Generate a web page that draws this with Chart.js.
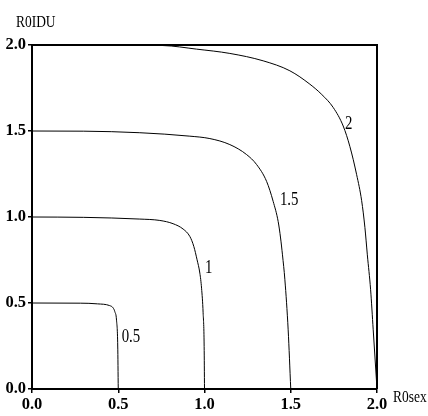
<!DOCTYPE html>
<html>
<head>
<meta charset="utf-8">
<script src="https://cdn.jsdelivr.net/npm/chart.js@4"></script>
<style>
html,body{margin:0;padding:0;background:#fff;}
#c{display:block;}
</style>
</head>
<body>
<canvas id="c" width="428" height="416" style="width:428px;height:416px"></canvas>
<script>
// Axis ticks
const tickValues = [0, 0.5, 1, 1.5, 2];
const tickLabels = ['0.0', '0.5', '1.0', '1.5', '2.0'];
const xTitle = 'R0sex';
const yTitle = 'R0IDU';

// Contour levels and their curves (R0sex, R0IDU)
const levelNames = ['0.5', '1', '1.5', '2'];
const curve05x = [0, 0.28, 0.38, 0.45, 0.47, 0.48, 0.49, 0.497, 0.5];
const curve05y = [0.5, 0.499, 0.495, 0.485, 0.472, 0.45, 0.40, 0.25, 0];
const curve10x = [0, 0.30, 0.625, 0.741, 0.818, 0.876, 0.915, 0.938, 0.957, 0.973, 0.983, 0.992, 0.998, 1.0];
const curve10y = [1.0, 0.998, 0.988, 0.980, 0.961, 0.930, 0.887, 0.829, 0.751, 0.674, 0.586, 0.443, 0.246, 0];
const curve15x = [0, 0.30, 0.625, 0.915, 1.031, 1.147, 1.244, 1.302, 1.360, 1.398, 1.427, 1.441, 1.452, 1.466, 1.485, 1.5];
const curve15y = [1.5, 1.499, 1.490, 1.470, 1.456, 1.421, 1.363, 1.305, 1.207, 1.091, 0.974, 0.878, 0.780, 0.635, 0.344, 0];
const curve20x = [0, 0.40, 0.758, 0.954, 1.147, 1.340, 1.495, 1.611, 1.680, 1.746, 1.804, 1.843, 1.882, 1.911, 1.930, 1.944, 1.963, 1.978, 2.0];
const curve20y = [2.0, 2.0, 1.997, 1.976, 1.951, 1.908, 1.850, 1.772, 1.712, 1.637, 1.529, 1.409, 1.246, 1.095, 0.938, 0.780, 0.577, 0.344, 0];

// label anchor points (data coords) for each contour label
const labelX = [0.52, 1.003, 1.437, 1.814];
const labelY = [0.303, 0.705, 1.10, 1.543];

function pts(xs, ys) { return xs.map((x, i) => ({x: x, y: ys[i]})); }
const curves = [pts(curve05x, curve05y), pts(curve10x, curve10y), pts(curve15x, curve15y), pts(curve20x, curve20y)];

const serif = "'Liberation Serif', 'Times New Roman', serif";

function condensedText(ctx, text, x, y, sx) {
  ctx.save();
  ctx.translate(x, y);
  ctx.scale(sx, 1);
  ctx.fillText(text, 0, 0);
  ctx.restore();
}

const framePlugin = {
  id: 'frame',
  afterDraw(chart) {
    const {ctx, chartArea: a, scales} = chart;
    ctx.save();
    ctx.strokeStyle = '#000';
    ctx.lineWidth = 2;
    ctx.beginPath();
    ctx.moveTo(a.left, a.top);
    ctx.lineTo(a.right, a.top);
    ctx.lineTo(a.right, a.bottom);
    ctx.stroke();
    ctx.fillStyle = '#000';
    ctx.font = '16px ' + serif;
    ctx.textBaseline = 'alphabetic';
    ctx.textAlign = 'left';
    condensedText(ctx, yTitle, 16, 27, 0.84);
    condensedText(ctx, xTitle, a.right + 16, a.bottom + 13, 0.84);
    ctx.textBaseline = 'middle';
    ctx.font = '19px ' + serif;
    levelNames.forEach((t, i) => {
      condensedText(ctx, t, scales.x.getPixelForValue(labelX[i]), scales.y.getPixelForValue(labelY[i]), 0.78);
    });
    ctx.restore();
  }
};

function axis(pos, fitFn) {
  return {
    type: 'linear',
    position: pos,
    min: 0,
    max: 2,
    afterBuildTicks(s) { s.ticks = tickValues.map(v => ({value: v})); },
    afterFit: fitFn,
    grid: {
      drawOnChartArea: false,
      drawTicks: true,
      tickLength: 4,
      color: '#000',
      lineWidth: 1.5
    },
    border: {display: true, color: '#000', width: 2},
    ticks: {
      color: '#000',
      padding: 2,
      font: {family: serif, size: 16.5, weight: 'bold'},
      callback(v) { const i = tickValues.indexOf(v); return i >= 0 ? tickLabels[i] : ''; },
      maxRotation: 0,
      autoSkip: false
    }
  };
}

new Chart(document.getElementById('c'), {
  type: 'scatter',
  data: {
    datasets: curves.map((c, i) => ({
      label: levelNames[i],
      data: c,
      showLine: true,
      borderColor: '#000',
      borderWidth: 1,
      pointRadius: 0,
      fill: false,
      cubicInterpolationMode: 'monotone'
    }))
  },
  options: {
    responsive: false,
    animation: false,
    devicePixelRatio: 1,
    layout: {padding: {top: 45, right: 51, left: 0, bottom: 0}},
    plugins: {legend: {display: false}, tooltip: {enabled: false}},
    scales: {
      x: axis('bottom', s => { s.height = 27; }),
      y: axis('left', s => { s.width = 32; })
    }
  },
  plugins: [framePlugin]
});
</script>
</body>
</html>
